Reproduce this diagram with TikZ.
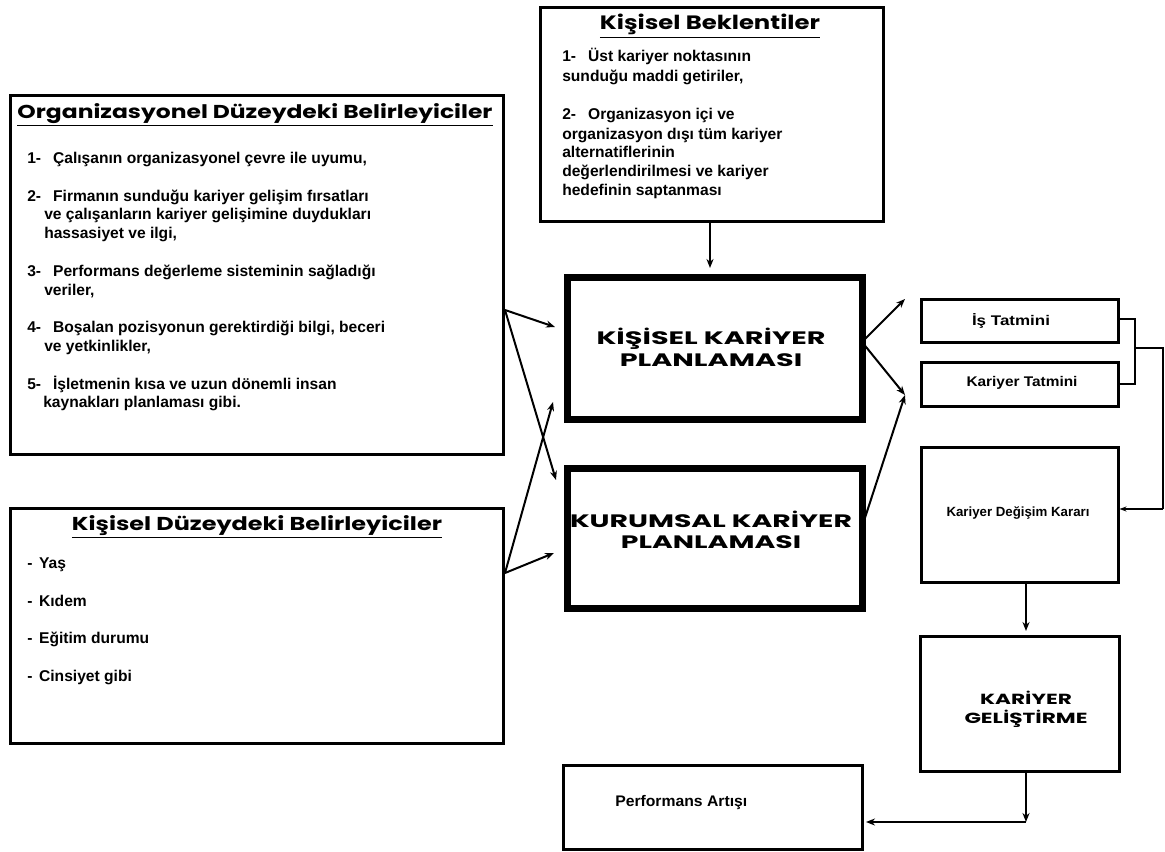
\documentclass[tikz,border=0pt]{standalone}
\usepackage{fontspec}
\setmainfont{Liberation Sans}
\newfontfamily\headfont{Poppins}
\usepackage{graphicx}
\usetikzlibrary{arrows.meta}
\newlength\px \setlength\px{0.75pt}
\newcommand\fitw[2]{\resizebox{#1\px}{\height}{#2}}
\tikzset{
  box/.style={draw, line width=2.25pt, anchor=north west, inner sep=0pt},
  bigbox/.style={draw, line width=5.25pt, anchor=north west, inner sep=0pt},
  txt/.style={inner sep=0pt, anchor=base west, font=\bfseries\fontsize{11.7}{13}\selectfont},
  ctxt/.style={inner sep=0pt, anchor=center},
  arr/.style={line width=1.5pt, -{Stealth[length=6.75pt,width=5.25pt]}},
  thin/.style={line width=1.1pt},
  thinarr/.style={line width=1.1pt, -{Stealth[length=5.25pt,width=3.75pt]}},
}
\begin{document}
\begin{tikzpicture}[x=0.75pt,y=-0.75pt]
\useasboundingbox (0,0) rectangle (1165,852);
% boxes
\node[box, minimum width=257.25pt, minimum height=160.5pt] (kb) at (538.5,6.5) {};
\node[box, minimum width=369.75pt, minimum height=269.25pt] (org) at (8.5,94.5) {};
\node[box, minimum width=369.75pt, minimum height=176.25pt] (kdb) at (8.5,506.5) {};
\node[bigbox, minimum width=221.25pt, minimum height=106.5pt] (kkp) at (563.5,274.5) {};
\node[bigbox, minimum width=221.25pt, minimum height=104.25pt] (kup) at (563.5,465.5) {};
\node[box, minimum width=147.75pt, minimum height=32.25pt] (is) at (919.5,298.5) {};
\node[box, minimum width=147.75pt, minimum height=33pt] (kt) at (919.5,361.5) {};
\node[box, minimum width=147.75pt, minimum height=100.5pt] (kdk) at (919.5,446.5) {};
\node[box, minimum width=149.25pt, minimum height=101.25pt] (kg) at (918.5,634.5) {};
\node[box, minimum width=224.25pt, minimum height=63pt] (pa) at (561.5,763.5) {};

% titles
\node[ctxt] (kbt) at (710,26) {\fitw{220}{\headfont\bfseries\fontsize{14.5}{15}\selectfont\underline{Kişisel Beklentiler}}};
\node[ctxt] (orgt) at (255,115) {\fitw{475}{\headfont\bfseries\fontsize{14}{15}\selectfont\underline{Organizasyonel Düzeydeki Belirleyiciler}}};
\node[ctxt] (kdbt) at (257,527) {\fitw{370}{\headfont\bfseries\fontsize{14}{15}\selectfont\underline{Kişisel Düzeydeki Belirleyiciler}}};

% Kisisel Beklentiler items
\node[txt] (kb1) at (562,62) {1-\hspace{9pt}Üst kariyer noktasının};
\node[txt] (kb2) at (562,82) {sunduğu maddi getiriler,};
\node[txt] (kb3) at (562,120) {2-\hspace{9pt}Organizasyon içi ve};
\node[txt] (kb4) at (562,140) {organizasyon dışı tüm kariyer};
\node[txt] (kb5) at (562,158) {alternatiflerinin};
\node[txt] (kb6) at (562,177) {değerlendirilmesi ve kariyer};
\node[txt] (kb7) at (562,196) {hedefinin saptanması};

% Org items
\node[txt] (o1) at (27,164) {1-\hspace{9pt}Çalışanın organizasyonel çevre ile uyumu,};
\node[txt] (o2) at (27,202) {2-\hspace{9pt}Firmanın sunduğu kariyer gelişim fırsatları};
\node[txt] (o3) at (44,220) {ve çalışanların kariyer gelişimine duydukları};
\node[txt] (o4) at (44,239) {hassasiyet ve ilgi,};
\node[txt] (o5) at (27,277) {3-\hspace{9pt}Performans değerleme sisteminin sağladığı};
\node[txt] (o6) at (44,296) {veriler,};
\node[txt] (o7) at (27,333) {4-\hspace{9pt}Boşalan pozisyonun gerektirdiği bilgi, beceri};
\node[txt] (o8) at (44,352) {ve yetkinlikler,};
\node[txt] (o9) at (27,390) {5-\hspace{9pt}İşletmenin kısa ve uzun dönemli insan};
\node[txt] (o10) at (43,408) {kaynakları planlaması gibi.};

% Kisisel duzey items
\node[txt] (d1) at (27,568) {-\hspace{5pt}Yaş};
\node[txt] (d2) at (27,606) {-\hspace{5pt}Kıdem};
\node[txt] (d3) at (27,643) {-\hspace{5pt}Eğitim durumu};
\node[txt] (d4) at (27,681) {-\hspace{5pt}Cinsiyet gibi};

% center texts
\node[ctxt] (kkpt) at (711,351) {\fitw{229}{\headfont\bfseries\fontsize{13.5}{16.5}\selectfont\begin{tabular}{@{}c@{}}KİŞİSEL KARİYER\\PLANLAMASI\end{tabular}}};
\node[ctxt] (kupt) at (711,533) {\fitw{282}{\headfont\bfseries\fontsize{13.5}{16}\selectfont\begin{tabular}{@{}c@{}}KURUMSAL KARİYER\\PLANLAMASI\end{tabular}}};
\node[ctxt] (kgt) at (1026,710) {\fitw{123}{\headfont\bfseries\fontsize{11}{13}\selectfont\begin{tabular}{@{}c@{}}KARİYER\\GELİŞTİRME\end{tabular}}};

% right texts
\node[ctxt] (ist) at (1011,321) {\fitw{78}{\bfseries\fontsize{10.5}{12}\selectfont İş Tatmini}};
\node[ctxt] (ktt) at (1022,383) {\fitw{111}{\bfseries\fontsize{10.5}{12}\selectfont Kariyer Tatmini}};
\node[ctxt] (kdkt) at (1018,513) {\fitw{143}{\bfseries\fontsize{10}{12}\selectfont Kariyer Değişim Kararı}};
\node[inner sep=0pt, anchor=west] (pat) at (615,803) {\fitw{132}{\bfseries\fontsize{11.5}{12}\selectfont Performans Artışı}};

% connectors
\coordinate (os) at (505,310);
\coordinate (ps) at (505,573);
\coordinate (ks) at (862,342);
\coordinate (us) at (862,527);
\coordinate (ti) at (905,299);
\coordinate (tk) at (905,395);
\coordinate (cr) at (1026,822);
\coordinate (b1) at (1135,319);
\coordinate (b2) at (1135,384);
\coordinate (b3) at (1135,348);
\coordinate (b4) at (1163,348);
\coordinate (b5) at (1163,509);
\coordinate (kbo) at (710,222);
\coordinate (kki) at (710,268);
\coordinate (ko1) at (555,327);
\coordinate (ku1) at (556,480);
\coordinate (ko2) at (553,402);
\coordinate (ku2) at (554,553);
\coordinate (kdo) at (1026,582);
\coordinate (kgi) at (1026,631);
\coordinate (kgo) at (1026,771);
\coordinate (pai) at (866,822);

\draw[arr] (kbo) -- (kki);
\draw[arr] (os) -- (ko1);
\draw[arr] (os) -- (ku1);
\draw[arr] (ps) -- (ko2);
\draw[arr] (ps) -- (ku2);
\draw[arr] (ks) -- (ti);
\draw[arr] (ks) -- (tk);
\draw[arr] (us) -- (tk);
\draw[thin] (is.east |- b1) -- (b1) -- (b2) -- (kt.east |- b2);
\draw[thin] (b3) -- (b4) -- (b5);
\draw[thinarr] (b5) -- (kdk.east |- b5);
\draw[arr] (kdo) -- (kgi);
\draw[arr] (kgo) -- (cr);
\draw[arr] (cr) -- (pai);
\end{tikzpicture}
\end{document}
